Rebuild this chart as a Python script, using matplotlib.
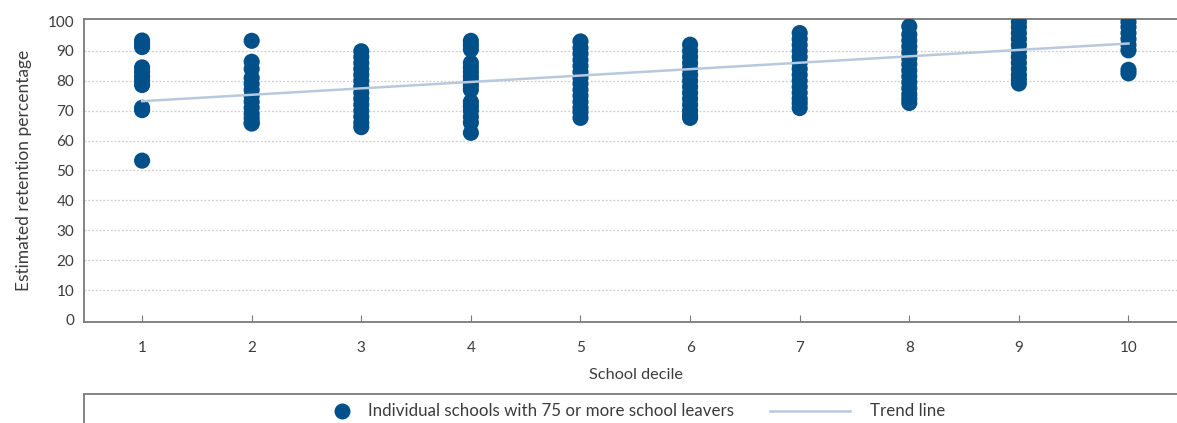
import matplotlib
matplotlib.use("Agg")
import matplotlib.pyplot as plt
from matplotlib.lines import Line2D
from matplotlib.patches import Rectangle

# Estimated retention percentage for each school, grouped by school decile
deciles = [1, 2, 3, 4, 5, 6, 7, 8, 9, 10]
retention = {
    1: [93.5, 92.5, 91.3, 84.5, 83, 81.5, 80, 78.6, 71, 70.2, 53.3],
    2: [93.4, 86.4, 84, 81, 79, 77, 75, 73, 71, 69, 67.5, 66, 65.7],
    3: [89.9, 88, 86, 84, 82, 80, 78, 76, 74, 72, 70, 68, 66, 64.5],
    4: [93.4, 92, 90.5, 86, 84.5, 83, 81.5, 80, 78.5, 77, 73, 71.5, 70, 68, 66, 62.6],
    5: [93.2, 91, 89, 87, 85, 83, 81, 79, 77, 75, 73, 71, 69.5, 67.6],
    6: [92.1, 90, 88, 86, 84, 82, 80, 78, 76, 74, 72, 70, 68.5, 67.6],
    7: [96, 94, 92, 90, 88, 86, 84, 82, 80, 78, 76, 74, 72.5, 70.9],
    8: [98.2, 95.5, 93.5, 91.5, 89.5, 87.5, 85.5, 83.5, 81.5, 79.5, 77.5, 75.5, 74, 72.6],
    9: [99.7, 98, 96, 94, 92, 90, 88, 86, 84, 82, 80.5, 79.1],
    10: [99.7, 98, 96, 94, 92, 90.2, 83.7, 82.5],
}

# Linear trend across deciles (value at decile 1 and decile 10)
trend_x = [1, 10]
trend_y = [73.2, 92.5]

y_ticks = [0, 10, 20, 30, 40, 50, 60, 70, 80, 90, 100]
x_label = "School decile"
y_label = "Estimated retention percentage"
dot_label = "Individual schools with 75 or more school leavers"
trend_label = "Trend line"

DOT = "#02508a"
TREND = "#b9c9dd"
TEXT = "#3c3c3c"
SPINE = "#7a7a7a"

plt.rcParams["font.family"] = ["Lato", "DejaVu Sans"]

W, H = 1177, 423
fig = plt.figure(figsize=(W / 100, H / 100), dpi=100)
ax = fig.add_axes([84 / W, 1 - 322 / H, 1.01 - 84 / W, (322 - 19) / H])

xs, ys = [], []
for d in deciles:
    for v in retention[d]:
        xs.append(d)
        ys.append(v)
ax.scatter(xs, ys, s=135, color=DOT, edgecolors="none", zorder=3)
ax.plot(trend_x, trend_y, color=TREND, lw=1.8, zorder=4)

ax.set_xlim(0.47, 10.55)
ax.set_ylim(-0.7, 100.7)
ax.set_xticks(deciles)
ax.set_yticks(y_ticks)
ax.tick_params(axis="x", direction="in", length=5, width=0.8, color=SPINE,
               labelsize=11, labelcolor=TEXT, pad=14)
ax.tick_params(axis="y", length=0, labelsize=11, labelcolor=TEXT, pad=7)

for v in y_ticks[1:-1]:
    ax.axhline(v, color="#cdcdcd", lw=0.9, ls=(0, (1.5, 1.5)), zorder=1)

for side in ["left", "top", "bottom"]:
    ax.spines[side].set_color(SPINE)
    ax.spines[side].set_linewidth(1.3)
ax.spines["right"].set_visible(False)

ax.set_xlabel(x_label, fontsize=11.7, color=TEXT, labelpad=9)
ax.set_ylabel(y_label, fontsize=12.5, color=TEXT, labelpad=11)

# Legend box along the bottom, with its entries placed in figure pixels
def fx(px):
    return px / W

def fy(py):
    return 1 - py / H

fig.patches.append(Rectangle((fx(84), -0.1), 1.0, fy(394) + 0.1,
                             transform=fig.transFigure, fill=False,
                             edgecolor=SPINE, lw=1.3))
ly = fy(411)
fig.add_artist(Line2D([fx(342)], [ly], ls="none", marker="o", markersize=11.5,
                      color=DOT, markeredgewidth=0, transform=fig.transFigure))
fig.text(fx(368), ly, dot_label, fontsize=12.2, color=TEXT, va="center", ha="left")
fig.add_artist(Line2D([fx(770), fx(850)], [ly, ly], color=TREND, lw=1.8,
                      transform=fig.transFigure))
fig.text(fx(870), ly, trend_label, fontsize=12.2, color=TEXT, va="center", ha="left")

fig.savefig("out.png", dpi=100)
